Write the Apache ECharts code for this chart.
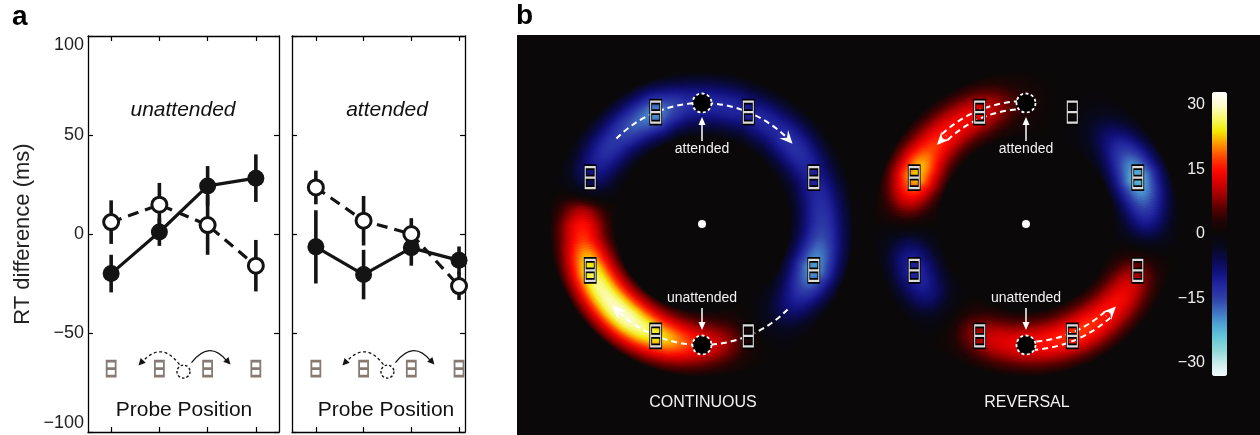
<!DOCTYPE html>
<html lang="en">
<head>
<meta charset="UTF-8">
<title>RT difference and ring maps</title>
<script src="https://cdn.jsdelivr.net/npm/echarts@6/dist/echarts.min.js"></script>
<style>
  html, body { margin: 0; padding: 0; background: #fff; }
  #main { width: 1260px; height: 435px; }
</style>
</head>
<body>
<div id="main"></div>
<script>
// ---- panel a: RT difference (ms) by probe position ----
var probePos = [1, 2, 3, 4];
var yTicks = [-100, -50, 0, 50, 100];
var unattFilled = [-20, 1, 24.3, 28.2];
var unattFilledErr = [9.5, 7, 10, 12];
var unattOpen = [6, 14.8, 4.5, -16];
var unattOpenErr = [11, 11, 15, 13];
var attFilled = [-6.5, -20.5, -7, -13.3];
var attFilledErr = [18.5, 12.5, 9, 7];
var attOpen = [23.5, 6.7, 0, -26.3];
var attOpenErr = [8.5, 12.5, 8, 7];

// ---- panel b: value around the ring, by angle (deg, clockwise from top) ----
var ringAngles = [0, 7.5, 15, 22.5, 30, 37.5, 45, 52.5, 60, 67.5, 75, 82.5,
  90, 97.5, 105, 112.5, 120, 127.5, 135, 142.5, 150, 157.5, 165, 172.5,
  180, 187.5, 195, 202.5, 210, 217.5, 225, 232.5, 240, 247.5, 255, 262.5,
  270, 277.5, 285, 292.5, 300, 307.5, 315, 322.5, 330, 337.5, 345, 352.5];
var continuousVals = [-12, -12, -12, -11, -12, -12, -13, -13, -12, -11, -12, -13,
  -14, -16, -19, -21, -17, -12, -8, -4, -1, 2, 7, 11,
  14, 18, 22, 25, 28, 30, 30, 29, 28, 26, 22, 17,
  15, 9, -2, -8, -11, -13, -14, -16, -18, -20, -16, -13];
var reversalVals = [3, 1, 0, 0, -2, -5, -9, -14, -19, -23, -20, -15,
  -10, -4, 2, 8, 12, 14, 15, 16, 17, 17, 16, 15,
  14, 13, 12, 10, 6, 1, -3, -8, -11, -12, -10, -5,
  1, 8, 16, 23, 22, 18, 16, 15, 14, 13, 10, 6];
var boxAngles = [22.5, 67.5, 112.5, 157.5, 202.5, 247.5, 292.5, 337.5];
var cueAngles = [0, 180];
// dashed paths: [radius, fromAngle, toAngle, arrowhead]
var continuousPaths = [[121, -45, 47, 1], [121, 135, 226, 1]];
var reversalPaths = [[123, -4, -43, 0], [115, -4, -43, 0], [119, -42, -47, 1],
  [126, 176, 138, 0], [118, 176, 138, 0], [122, 139, 134, 1]];
var cbarTicks = [-30, -15, 0, 15, 30];

var VMIN = -33, VMAX = 33;
var cmap = ['#f4fbfb', '#c8ecec', '#90d8d8', '#64c8da', '#4ea4d4', '#4070c0',
  '#3040a8', '#2226a0', '#121280', '#0a0a50', '#08081e', '#0a0808',
  '#200404', '#580000', '#a00000', '#d80000', '#ff0a00', '#ff4800',
  '#ff9800', '#f0ec00', '#f8f870', '#fcfcd0', '#ffffff'];

var FONT = '"Liberation Sans", Arial, Helvetica, sans-serif';
var INK = '#141414';
var BG = '#0a0808';
var ICON_Y = -68;
var BOX_PATH = 'path://M0 0L10 0L10 20L0 20Z M0 10L10 10';
var C1 = [702, 224], C2 = [1026, 224];
var RING_MID = 120, RING_HALF = 33, STEP = 7.5, SUB = 6;

var chart = echarts.init(document.getElementById('main'));

function minus(v) { return v < 0 ? '\u2212' + Math.abs(v) : String(v); }

function hexRgb(h) {
  return [parseInt(h.substr(1, 2), 16), parseInt(h.substr(3, 2), 16), parseInt(h.substr(5, 2), 16)];
}
function colorAt(v) {
  var t = (Math.max(VMIN, Math.min(VMAX, v)) - VMIN) / (VMAX - VMIN) * (cmap.length - 1);
  var i = Math.min(Math.floor(t), cmap.length - 2), f = t - i;
  var a = hexRgb(cmap[i]), b = hexRgb(cmap[i + 1]);
  return 'rgb(' + [0, 1, 2].map(function (k) { return Math.round(a[k] + (b[k] - a[k]) * f); }).join(',') + ')';
}

function renderErr(params, api) {
  var x = api.value(0), y = api.value(1), e = api.value(2);
  var a = api.coord([x, y - e]), b = api.coord([x, y + e]);
  return { type: 'line', shape: { x1: a[0], y1: a[1], x2: b[0], y2: b[1] },
    style: { stroke: INK, lineWidth: 3.6 } };
}

// one angular cell of the ring (from its angle to the next one), shaded
// toward the next cell's value and fading out radially
function ringRenderer(vals) {
  return function (params, api) {
    var ang = api.value(0), v = api.value(1);
    var vn = vals[(params.dataIndex + 1) % vals.length];
    var c = api.coord([0, ang]);
    var p = api.coord([RING_MID, ang]);
    var rm = Math.hypot(p[0] - c[0], p[1] - c[1]);
    var a0 = Math.atan2(p[1] - c[1], p[0] - c[0]);
    var da = STEP * Math.PI / 180 / SUB;
    var r1 = rm + RING_HALF;
    var kids = [];
    for (var s = 0; s < SUB; s++) {
      var vs = v + (vn - v) * (s + 0.5) / SUB;
      var stops = [];
      for (var k = 0; k <= 16; k++) {
        var x = k / 8 - 1;
        var f = (k === 0 || k === 16) ? 0 : Math.exp(-x * x / (2 * 0.5 * 0.5));
        stops.push({ offset: (rm + x * RING_HALF) / r1, color: colorAt(vs * f) });
      }
      kids.push({ type: 'sector',
        shape: { cx: c[0], cy: c[1], r0: rm - RING_HALF, r: r1,
          startAngle: a0 + s * da - 0.003, endAngle: a0 + (s + 1) * da + 0.003, clockwise: true },
        style: { fill: new echarts.graphic.RadialGradient(c[0], c[1], r1, stops, true) } });
    }
    return { type: 'group', children: kids };
  };
}

function renderPath(params, api) {
  var r = api.value(0), f0 = api.value(1), f1 = api.value(2);
  var c = api.coord([0, 0]);
  var p0 = api.coord([r, f0]), p1 = api.coord([r, f1]);
  var rp = Math.hypot(p0[0] - c[0], p0[1] - c[1]);
  var s = Math.atan2(p0[1] - c[1], p0[0] - c[0]);
  var sw = (f1 - f0) * Math.PI / 180;
  var kids = [{ type: 'arc',
    shape: { cx: c[0], cy: c[1], r: rp, startAngle: sw > 0 ? s : s + sw, endAngle: sw > 0 ? s + sw : s, clockwise: true },
    style: { stroke: '#fff', fill: null, lineWidth: 2, lineDash: [6, 4] } }];
  if (api.value(3)) {
    var e = s + sw;
    var d = sw > 0 ? [-Math.sin(e), Math.cos(e)] : [Math.sin(e), -Math.cos(e)];
    var n = [-d[1], d[0]];
    var tx = p1[0] + d[0] * 3, ty = p1[1] + d[1] * 3;
    kids.push({ type: 'polygon', shape: { points: [
      [tx, ty],
      [tx - d[0] * 13 + n[0] * 6, ty - d[1] * 13 + n[1] * 6],
      [tx - d[0] * 8, ty - d[1] * 8],
      [tx - d[0] * 13 - n[0] * 6, ty - d[1] * 13 - n[1] * 6]] },
      style: { fill: '#fff' } });
  }
  return { type: 'group', children: kids };
}

var series = [];
function addPanel(g, filled, filledErr, open, openErr) {
  var ax = { xAxisIndex: 2 * g, yAxisIndex: 2 * g };
  function ext(o) { return Object.assign({}, ax, o); }
  series.push(ext({ type: 'custom', renderItem: renderErr, z: 2,
    data: probePos.map(function (x, i) { return [x, filled[i], filledErr[i]]; }) }));
  series.push(ext({ type: 'custom', renderItem: renderErr, z: 2,
    data: probePos.map(function (x, i) { return [x, open[i], openErr[i]]; }) }));
  series.push(ext({ type: 'line', z: 3, symbol: 'circle', symbolSize: 17,
    data: probePos.map(function (x, i) { return [x, filled[i]]; }),
    lineStyle: { color: INK, width: 3.2 }, itemStyle: { color: INK } }));
  series.push(ext({ type: 'line', z: 4, symbol: 'circle', symbolSize: 15,
    data: probePos.map(function (x, i) { return [x, open[i]]; }),
    lineStyle: { color: INK, width: 3.2, type: [11, 7] },
    itemStyle: { color: '#fff', borderColor: INK, borderWidth: 3 } }));
  series.push(ext({ type: 'scatter', z: 2, symbol: BOX_PATH, symbolSize: [9, 15],
    data: probePos.map(function (x) { return [x, ICON_Y]; }),
    itemStyle: { color: 'rgba(0,0,0,0)', borderColor: '#857b74', borderWidth: 2.3, opacity: 1 } }));
  series.push(ext({ type: 'scatter', z: 2, symbol: 'circle', symbolSize: 13,
    data: [[2.5, ICON_Y - 1.5]],
    itemStyle: { color: 'rgba(0,0,0,0)', borderColor: INK, borderWidth: 1.4, borderType: [2.5, 2], opacity: 1 } }));
}
addPanel(0, unattFilled, unattFilledErr, unattOpen, unattOpenErr);
addPanel(1, attFilled, attFilledErr, attOpen, attOpenErr);

var ringSeries = [];
function addRing(pi, vals, paths) {
  ringSeries.push(series.length);
  series.push({ type: 'custom', coordinateSystem: 'polar', polarIndex: pi, renderItem: ringRenderer(vals), z: 2,
    data: ringAngles.map(function (a, i) { return [a, vals[i]]; }) });
  series.push({ type: 'custom', coordinateSystem: 'polar', polarIndex: pi, renderItem: renderPath, z: 5,
    data: paths });
  series.push({ type: 'scatter', coordinateSystem: 'polar', polarIndex: pi, z: 6, symbol: BOX_PATH, symbolSize: [10, 21],
    data: boxAngles.map(function (a) { return [RING_MID + 1, a]; }),
    itemStyle: { color: 'rgba(0,0,0,0)', borderColor: '#000', borderWidth: 4, opacity: 1 } });
  series.push({ type: 'scatter', coordinateSystem: 'polar', polarIndex: pi, z: 7, symbol: BOX_PATH, symbolSize: [10, 21],
    data: boxAngles.map(function (a) { return [RING_MID + 1, a]; }),
    itemStyle: { color: 'rgba(0,0,0,0)', borderColor: '#dcdcdc', borderWidth: 1.6, opacity: 1 } });
  series.push({ type: 'scatter', coordinateSystem: 'polar', polarIndex: pi, z: 8, symbol: 'circle', symbolSize: 19,
    data: cueAngles.map(function (a) { return [RING_MID + 1, a]; }),
    itemStyle: { color: '#000', borderColor: '#fff', borderWidth: 1.8, borderType: [3, 2.5], opacity: 1 } });
  series.push({ type: 'scatter', coordinateSystem: 'polar', polarIndex: pi, z: 8, symbol: 'circle', symbolSize: 8,
    data: [[0, 0]], itemStyle: { color: '#fff', opacity: 1 } });
}
addRing(0, continuousVals, continuousPaths);
addRing(1, reversalVals, reversalPaths);

var frameLine = { show: true, onZero: false, lineStyle: { color: '#000', width: 1.3 } };
function xAx(g, pos, max) {
  return { type: 'value', gridIndex: g, position: pos, min: g === 0 ? 0.52 : 0.5, max: max,
    axisLine: frameLine, splitLine: { show: false }, axisLabel: { show: false },
    axisTick: { inside: true, length: 5, customValues: probePos, lineStyle: { color: '#000', width: 1.2 } } };
}
function yAx(g, pos, labels) {
  return { type: 'value', gridIndex: g, position: pos, min: -100, max: 100, interval: 50,
    axisLine: frameLine, splitLine: { show: false },
    axisTick: { inside: true, length: 5, lineStyle: { color: '#000', width: 1.2 } },
    axisLabel: { show: labels, formatter: minus, color: '#222', fontSize: 18, fontFamily: FONT, margin: 4,
      verticalAlignMinLabel: 'bottom', verticalAlignMaxLabel: 'top' },
    name: labels ? 'RT difference (ms)' : '', nameLocation: 'middle', nameGap: 54,
    nameTextStyle: { fontSize: 22, color: '#222', fontFamily: FONT } };
}

var option = {
  animation: false,
  backgroundColor: '#fff',
  grid: [
    { left: 88, top: 36, width: 191, height: 396, outerBoundsMode: 'none', containLabel: false },
    { left: 292, top: 36, width: 173, height: 396, outerBoundsMode: 'none', containLabel: false },
    { left: 1212, top: 92, width: 15, height: 284, outerBoundsMode: 'none', containLabel: false }
  ],
  xAxis: [xAx(0, 'bottom', 4.48), xAx(0, 'top', 4.48), xAx(1, 'bottom', 4.125), xAx(1, 'top', 4.125),
    { type: 'value', gridIndex: 2, min: 0, max: 1, show: false }],
  yAxis: [yAx(0, 'left', true), yAx(0, 'right', false), yAx(1, 'left', false), yAx(1, 'right', false),
    { type: 'value', gridIndex: 2, min: VMIN, max: VMAX, axisLine: { show: false }, axisTick: { show: false },
      splitLine: { show: false },
      axisLabel: { customValues: cbarTicks, formatter: minus, color: '#eee', fontSize: 16, fontFamily: FONT, margin: 7 } }],
  polar: [{ center: C1, radius: 150 }, { center: C2, radius: 150 }],
  angleAxis: [
    { polarIndex: 0, min: 0, max: 360, startAngle: 90, clockwise: true, show: false },
    { polarIndex: 1, min: 0, max: 360, startAngle: 90, clockwise: true, show: false }],
  radiusAxis: [
    { polarIndex: 0, min: 0, max: 150, show: false },
    { polarIndex: 1, min: 0, max: 150, show: false }],
  visualMap: {
    type: 'continuous', min: VMIN, max: VMAX, dimension: 1, seriesIndex: ringSeries,
    inRange: { color: cmap }, left: 1212, top: 92, itemWidth: 15, itemHeight: 284,
    padding: 0, calculable: false, orient: 'vertical', z: 5
  },
  series: series
};
chart.setOption(option);

// ---- annotations ----
var gr = [];
function txt(x, y, s, size, color, extra) {
  gr.push({ type: 'text', x: x, y: y, z: 20,
    style: Object.assign({ text: s, fill: color, fontSize: size, fontFamily: FONT, align: 'center', verticalAlign: 'middle' }, extra || {}) });
}
function head(tip, from, len, half, color) {
  var dx = tip[0] - from[0], dy = tip[1] - from[1], L = Math.hypot(dx, dy);
  dx /= L; dy /= L;
  gr.push({ type: 'polygon', z: 20, shape: { points: [tip,
    [tip[0] - dx * len - dy * half, tip[1] - dy * len + dx * half],
    [tip[0] - dx * len + dy * half, tip[1] - dy * len - dx * half]] }, style: { fill: color } });
}

gr.push({ type: 'rect', z: -10, shape: { x: 517, y: 35, width: 743, height: 400 }, style: { fill: BG } });
txt(12, 17, 'a', 28, '#000', { fontWeight: 'bold', align: 'left' });
txt(516, 16, 'b', 28, '#000', { fontWeight: 'bold', align: 'left' });

[[0, 'unattended', 183], [1, 'attended', 387]].forEach(function (pnl) {
  var g = pnl[0];
  txt(pnl[2], 110, pnl[1], 21, '#111', { fontStyle: 'italic' });
  txt(g === 0 ? 184 : 386, 410, 'Probe Position', 21, '#111');
  var p = chart.convertToPixel({ gridIndex: g }, [2.5, ICON_Y - 1.5]);
  var cx = p[0], cy = p[1];
  gr.push({ type: 'bezierCurve', z: 20, shape: { x1: cx - 4, y1: cy - 7, cpx1: cx - 22, cpy1: cy - 31, x2: cx - 41, y2: cy - 10 },
    style: { stroke: INK, lineWidth: 1.3, lineDash: [3, 2.5], fill: null } });
  head([cx - 45, cy - 6], [cx - 36, cy - 16], 7, 3.5, INK);
  gr.push({ type: 'bezierCurve', z: 20, shape: { x1: cx + 8, y1: cy - 9, cpx1: cx + 26, cpy1: cy - 32, x2: cx + 43, y2: cy - 11 },
    style: { stroke: INK, lineWidth: 1.3, fill: null } });
  head([cx + 47, cy - 7], [cx + 38, cy - 17], 7, 3.5, INK);
});

[[C1, 'CONTINUOUS'], [C2, 'REVERSAL']].forEach(function (r) {
  var cx = r[0][0], cy = r[0][1];
  gr.push({ type: 'line', z: 20, shape: { x1: cx, y1: cy - 83, x2: cx, y2: cy - 102 }, style: { stroke: '#fff', lineWidth: 1.5 } });
  head([cx, cy - 107], [cx, cy - 90], 8, 3.5, '#fff');
  txt(cx, cy - 75, 'attended', 14, '#f2f2f2');
  txt(cx, cy + 74, 'unattended', 14, '#f2f2f2');
  gr.push({ type: 'line', z: 20, shape: { x1: cx, y1: cy + 84, x2: cx, y2: cy + 101 }, style: { stroke: '#fff', lineWidth: 1.5 } });
  head([cx, cy + 106], [cx, cy + 90], 8, 3.5, '#fff');
  txt(cx + 1, 403, r[1], 16, '#f2f2f2');
});
chart.setOption({ graphic: gr });
</script>
</body>
</html>
